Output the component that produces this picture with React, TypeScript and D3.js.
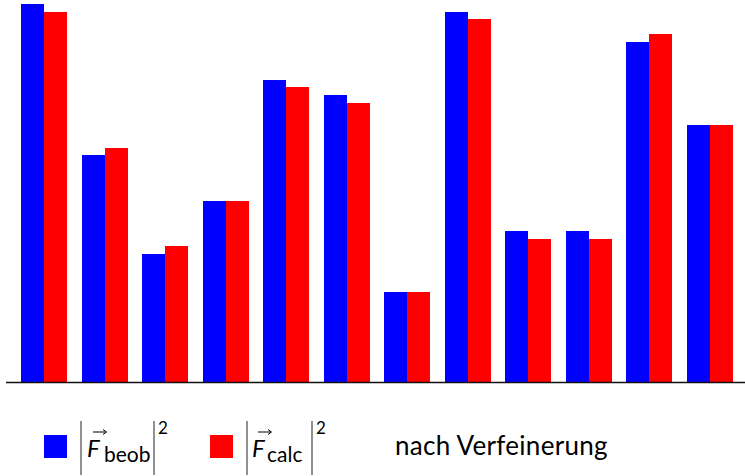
import React from "react";
import * as d3 from "d3";

const categories = ["1", "2", "3", "4", "5", "6", "7", "8", "9", "10", "11", "12"];
const seriesNames = ["beob", "calc"];
const beobValues = [378, 227, 128, 181, 302, 287, 90, 370, 151, 151, 340, 257];
const calcValues = [370, 234, 136, 181, 295, 279, 90, 363, 143, 143, 348, 257];
const seriesColors = ["#0000ff", "#ff0000"];
const legendNote = "nach Verfeinerung";

const W = 745;
const H = 476;
const baseY = 382;

export default function App() {
  const x = d3.scaleBand<string>().domain(categories).range([21, 733]).paddingInner(0.24).paddingOuter(0);
  const xs = d3.scaleBand<string>().domain(seriesNames).range([0, x.bandwidth()]).padding(0);
  const y = d3.scaleLinear().domain([0, 378]).range([baseY, 4]);
  const series = [beobValues, calcValues];

  const legendItems = [
    { sq: 44, barL: 81, F: 89, sub: 104, barR: 154, sup: 158 },
    { sq: 210, barL: 247, F: 254, sub: 267, barR: 312, sup: 316 },
  ];

  return (
    <svg width={W} height={H} style={{ position: "absolute", left: 0, top: 0 }} fontFamily="Lato, 'Noto Sans', sans-serif">
      <rect width={W} height={H} fill="#fff" />
      {categories.map((c, i) => (
        <g key={c}>
          {seriesNames.map((s, j) => {
            const x0 = Math.round((x(c) as number) + (xs(s) as number));
            const x1 = Math.round((x(c) as number) + (xs(s) as number) + xs.bandwidth());
            const yt = Math.round(y(series[j][i]));
            return (
              <rect
                key={s}
                x={x0}
                y={yt}
                width={x1 - x0}
                height={baseY - yt}
                fill={seriesColors[j]}
                shapeRendering="crispEdges"
              />
            );
          })}
        </g>
      ))}
      <line x1={6} x2={745} y1={baseY + 0.5} y2={baseY + 0.5} stroke="#111" strokeWidth={1.3} />
      {legendItems.map((l, j) => (
        <g key={j}>
          <rect x={l.sq} y={435} width={23} height={23} fill={seriesColors[j]} shapeRendering="crispEdges" />
          <line x1={l.barL} x2={l.barL} y1={421} y2={475} stroke="#222" strokeWidth={1} />
          <line x1={l.barR} x2={l.barR} y1={421} y2={475} stroke="#222" strokeWidth={1} />
          <text x={l.F - 2} y={457} fontSize={24} fontStyle="italic" fill="#000">F</text>
          <line x1={l.F + 4} x2={l.F + 17} y1={432} y2={432} stroke="#000" strokeWidth={1} />
          <path d={`M${l.F + 14},429.5 L${l.F + 17.5},432 L${l.F + 14},434.5`} fill="none" stroke="#000" strokeWidth={1} />
          <text x={l.sub} y={462} fontSize={21} fill="#000">{seriesNames[j]}</text>
          <text x={l.sup} y={434} fontSize={17} fill="#000">2</text>
        </g>
      ))}
      <text x={395} y={455} fontSize={26} letterSpacing={0.3} fill="#000">{legendNote}</text>
    </svg>
  );
}
